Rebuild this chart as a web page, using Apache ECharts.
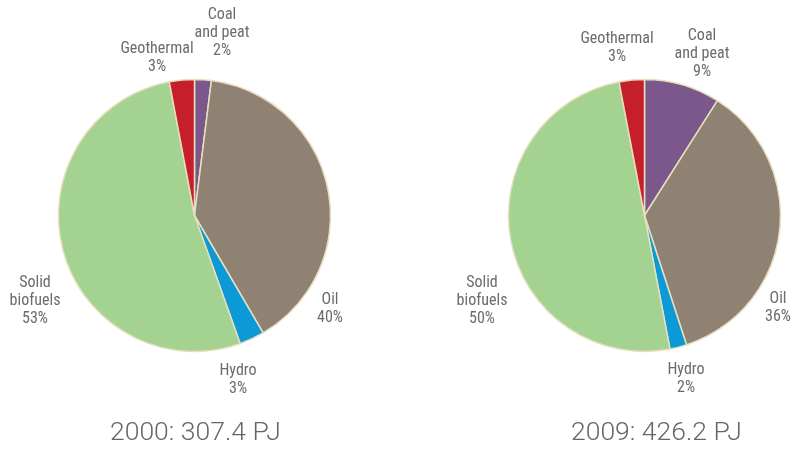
<!DOCTYPE html>
<html>
<head>
<meta charset="utf-8">
<script src="https://cdn.jsdelivr.net/npm/echarts@6/dist/echarts.min.js"></script>
<style>
  html, body { margin: 0; padding: 0; background: #ffffff; }
  #chart { width: 794px; height: 450px; }
</style>
</head>
<body>
<div id="chart"></div>
<script>
// Energy sources, clockwise from twelve o'clock
var categories = ['Coal\nand peat', 'Oil', 'Hydro', 'Solid\nbiofuels', 'Geothermal'];
var shares2000 = [2, 40, 3, 53, 3];
var shares2009 = [9, 36, 2, 50, 3];
var titles = ['2000: 307.4 PJ', '2009: 426.2 PJ'];
var colors = ['#7b578c', '#8f8273', '#0c9ad6', '#a3d291', '#c41f2b'];

// Label anchor points (block centres) for each pie
var labelPos2000 = [[222, 33], [330, 309], [238, 380], [35, 301], [157, 58]];
var labelPos2009 = [[702, 54], [778, 308], [686, 379], [482, 301], [617, 48]];

var labelFont = "'Liberation Sans Narrow', 'Roboto Condensed', 'Liberation Sans', sans-serif";

function makeData(values) {
  return categories.map(function (c, i) {
    return { name: c, value: values[i], itemStyle: { color: colors[i] } };
  });
}

function makePie(values, center, positions) {
  return {
    type: 'pie',
    center: center,
    radius: 136,
    startAngle: 90,
    clockwise: true,
    silent: true,
    animation: false,
    avoidLabelOverlap: false,
    itemStyle: { borderColor: '#e6dfbf', borderWidth: 1.5 },
    label: {
      show: true,
      position: 'outside',
      formatter: '{b}\n{c}%',
      fontFamily: labelFont,
      fontSize: 16,
      lineHeight: 18,
      color: '#6b6b6b',
      align: 'center'
    },
    labelLine: { show: false },
    labelLayout: function (p) {
      var pos = positions[p.dataIndex];
      return {
        x: pos[0], y: pos[1], align: 'center', verticalAlign: 'middle',
        hideOverlap: false, moveOverlap: null
      };
    },
    data: makeData(values)
  };
}

var titleStyle = { fontFamily: 'Roboto', fontWeight: 300, fontSize: 26.5, color: '#666666' };

var chart = echarts.init(document.getElementById('chart'), null, { renderer: 'canvas' });
chart.setOption({
  backgroundColor: '#ffffff',
  title: [
    { text: titles[0], left: 110, top: 420, padding: 0, textStyle: titleStyle },
    { text: titles[1], left: 571, top: 420, padding: 0, textStyle: titleStyle }
  ],
  series: [
    makePie(shares2000, [194.5, 215.5], labelPos2000),
    makePie(shares2009, [644.5, 215.5], labelPos2009)
  ]
});
</script>
</body>
</html>
